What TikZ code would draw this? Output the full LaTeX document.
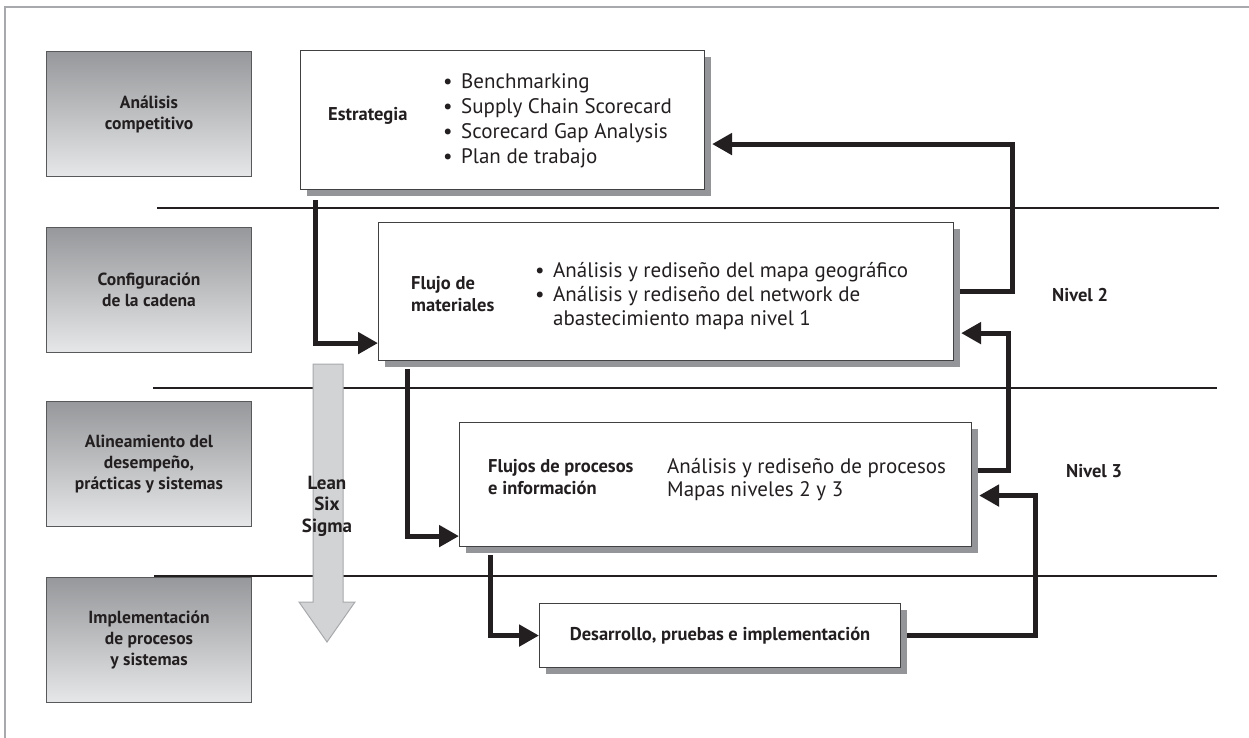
\documentclass[tikz,border=0pt]{standalone}
\usepackage{fontspec}
\setmainfont{PT Sans}
\usetikzlibrary{arrows.meta,shadows,calc}
\definecolor{ink}{HTML}{231F20}
\definecolor{boxline}{HTML}{414042}
\definecolor{shadowgray}{HTML}{939598}
\definecolor{gtop}{HTML}{97989B}
\definecolor{gbot}{HTML}{E6E7E8}
\definecolor{gline}{HTML}{58595B}
\definecolor{framegray}{HTML}{A7A9AC}
\definecolor{leanfill}{HTML}{D1D3D4}
\definecolor{leanline}{HTML}{A7A9AC}
\newcommand{\bulitem}{\makebox[18pt][l]{•}}
\tikzset{
  gbox/.style={draw=gline, line width=1pt, top color=gtop, bottom color=gbot, inner sep=0pt,
    minimum width=205pt, minimum height=125pt, anchor=north west, align=center, text=ink,
    font=\fontsize{17.5}{21}\selectfont\bfseries},
  wbox/.style={draw=boxline, fill=white, line width=1.1pt, inner sep=0pt, anchor=north west,
    drop shadow={shadow xshift=6pt, shadow yshift=-6pt, fill=shadowgray, opacity=1}},
  lbl/.style={font=\fontsize{18.5}{22}\selectfont\bfseries, text=ink, inner sep=0pt, align=left, anchor=west},
  body/.style={font=\fontsize{21}{25}\selectfont, text=ink, inner sep=0pt, align=left, anchor=west},
  sep/.style={draw=ink, line width=1.3pt},
  conn/.style={draw=ink, line width=5pt},
  arr/.style={-{Triangle[length=20pt,width=21pt]}},
}
\begin{document}
\begin{tikzpicture}[x=1pt,y=-1pt]
\useasboundingbox (0,0) rectangle (1249,738);
\fill[white] (0,0) rectangle (1249,738);
% frame
\draw[framegray, line width=1.2pt] (5,738) -- (5,7) -- (1249,7);
% separators
\draw[sep] (157,208) -- (1219,208);
\draw[sep] (153,388) -- (1217,388);
\draw[sep] (154,576) -- (1217,576);
% left gray boxes
\node[gbox] (g1) at (46,51) {Análisis\\competitivo};
\node[gbox] (g2) at (46,227) {Configuración\\de la cadena};
\node[gbox] (g3) at (46,401) {Alineamiento del\\desempeño,\\prácticas y sistemas};
\node[gbox] (g4) at (46,577) {Implementación\\de procesos\\y sistemas};
% Lean Six Sigma arrow
\draw[fill=leanfill, draw=leanline, line width=1pt] (313,364) -- (343,364) -- (343,602) -- (355,602) -- (327,642) -- (299,602) -- (313,602) -- cycle;
\node[lbl, anchor=center, align=center, font=\fontsize{19}{21.5}\selectfont\bfseries] (lean) at (327,506) {Lean\\Six\\Sigma};
% white boxes
\node[wbox, minimum width=404pt, minimum height=139pt] (estr) at (300,50) {};
\node[wbox, minimum width=575pt, minimum height=138pt] (flujo) at (378,222) {};
\node[wbox, minimum width=512pt, minimum height=124pt] (flujos) at (459,422) {};
\node[wbox, minimum width=361pt, minimum height=64pt] (des) at (539,603) {};
% texts
\node[lbl] (estrT) at (328,116) {Estrategia};
\node[body] (estrL) at (443,121) {\bulitem Benchmarking\\\bulitem Supply Chain Scorecard\\\bulitem Scorecard Gap Analysis\\\bulitem Plan de trabajo};
\node[lbl] (flujoT) at (411,294) {Flujo de\\materiales};
\node[body, font=\fontsize{21}{24}\selectfont] (flujoL) at (535,296) {\bulitem Análisis y rediseño del mapa geográfico\\\bulitem Análisis y rediseño del network de\\\hspace*{18pt}abastecimiento mapa nivel 1};
\node[lbl] (flujosT) at (488,477) {Flujos de procesos\\e información};
\node[body, font=\fontsize{21}{23}\selectfont] (flujosL) at (667,480) {Análisis y rediseño de procesos\\Mapas niveles 2 y 3};
\node[lbl, anchor=center] (desT) at (des.center) {Desarrollo, pruebas e implementación};
\node[lbl] (n2) at (1052,295) {Nivel 2};
\node[lbl] (n3) at (1066,471) {Nivel 3};
% connectors down
\draw[conn,arr] ($(estr.south west)+(15,10)$) |- ($(flujo.south west)+(0,-18)$);
\draw[conn,arr] ($(flujo.south west)+(29,8)$) |- ($(flujos.south west)+(0,-11)$);
\draw[conn,arr] ($(flujos.south west)+(31,8)$) |- (des.west);
% feedback connectors
\draw[conn,arr] ($(flujo.east)+(6,0)$) -- ++(52,0) |- ($(estr.east)+(7,24)$);
\draw[conn,arr] ($(flujos.east)+(6,-14)$) -- ++(30,0) |- ($(flujo.south east)+(7,-28)$);
\draw[conn,arr] ($(des.east)+(6,0)$) -- ++(128,0) |- ($(flujos.east)+(7,11)$);
\end{tikzpicture}
\end{document}
